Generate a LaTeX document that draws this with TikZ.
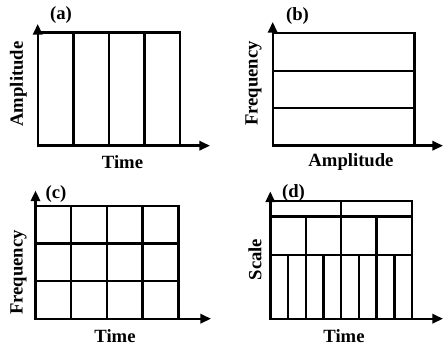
\documentclass[tikz,border=0pt]{standalone}
\usepackage{fontspec}
\setmainfont{Liberation Serif}
\usetikzlibrary{arrows.meta}
\tikzset{
  axis/.style={-{Triangle[length=8pt,width=7pt]}, line width=1.8pt},
  frame/.style={draw=black, line width=1.8pt},
  cut/.style={line width=1.8pt},
  lbl/.style={font=\fontsize{14}{16}\selectfont\bfseries, inner sep=0pt},
  tag/.style={font=\fontsize{14}{16}\selectfont\bfseries, inner sep=0pt},
}

\begin{document}
\begin{tikzpicture}[x=0.75pt, y=-0.75pt]
\useasboundingbox (0,0) rectangle (443,346);

% ===================== PANEL (a) : TIME DOMAIN =====================
\coordinate (ao) at (37.7,145.7);
\coordinate (ay) at (37.7,24);
\coordinate (ax) at (210,145.7);
\draw[frame] (ao) rectangle (180,32.7);
\foreach \x in {73.3,108.9,144.4}
  \draw[cut] (\x,32.7) -- (\x,145.7);
\draw[axis] (ao) -- (ay);
\draw[axis] (ao) -- (ax);
\node[tag] (atag) at (61,15.5) {(a)};
\node[lbl, rotate=90] (aylbl) at (18.5,84) {Amplitude};
\node[lbl] (axlbl) at (122.5,162.5) {Time};

% ===================== PANEL (b) : FREQUENCY DOMAIN =====================
\coordinate (bo) at (272.7,145.7);
\coordinate (by) at (272.7,22);
\coordinate (bx) at (443,145.7);
\draw[frame] (bo) rectangle (414.3,33.3);
\foreach \y in {70.8,108.2}
  \draw[cut] (272.7,\y) -- (414.3,\y);
\draw[axis] (bo) -- (by);
\draw[axis] (bo) -- (bx);
\node[tag] (btag) at (297.5,16.5) {(b)};
\node[lbl, rotate=90] (bylbl) at (253.5,83.5) {Frequency};
\node[lbl] (bxlbl) at (351,162.5) {Amplitude};

% ===================== PANEL (c) : SHORT-TIME FOURIER =====================
\coordinate (co) at (35.5,318.7);
\coordinate (cy) at (35.5,190.5);
\coordinate (cx) at (211,318.7);
\draw[frame] (co) rectangle (178.3,205.7);
\foreach \x in {71.2,106.9,142.6}
  \draw[cut] (\x,205.7) -- (\x,318.7);
\foreach \y in {243.4,281}
  \draw[cut] (35.5,\y) -- (178.3,\y);
\draw[axis] (co) -- (cy);
\draw[axis] (co) -- (cx);
\node[tag] (ctag) at (56,194.5) {(c)};
\node[lbl, rotate=90] (cylbl) at (18.5,272.5) {Frequency};
\node[lbl] (cxlbl) at (115,336) {Time};

% ===================== PANEL (d) : WAVELET =====================
\coordinate (do) at (270.3,318.7);
\coordinate (dy) at (270.3,191.5);
\coordinate (dx) at (443,318.7);
\draw[frame] (do) rectangle (412,200.7);
\draw[cut] (270.3,216.3) -- (412,216.3);
\draw[cut] (270.3,254.7) -- (412,254.7);
\draw[cut] (341.2,200.7) -- (341.2,216.3);
\foreach \x in {305.7,341.2,376.6}
  \draw[cut] (\x,216.3) -- (\x,254.7);
\foreach \x in {288,305.7,323.4,341.2,358.9,376.6,394.3}
  \draw[cut] (\x,254.7) -- (\x,318.7);
\draw[axis] (do) -- (dy);
\draw[axis] (do) -- (dx);
\node[tag] (dtag) at (293.5,193) {(d)};
\node[lbl, rotate=90] (dylbl) at (255,259.5) {Scale};
\node[lbl] (dxlbl) at (344,336) {Time};

\end{tikzpicture}
\end{document}
